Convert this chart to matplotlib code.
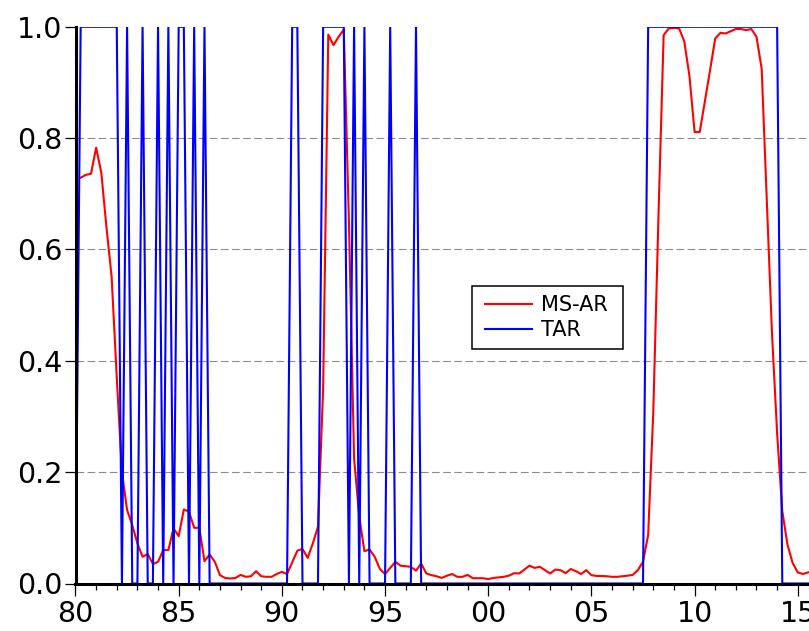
import numpy as np
import matplotlib
matplotlib.use("Agg")
import matplotlib.pyplot as plt
from matplotlib.patches import Rectangle

plt.rcParams['font.family'] = ['DejaVu Sans']
plt.rcParams['lines.scale_dashes'] = False

# Quarterly observations starting 1980Q1
start_year = 1980
ms_ar = [np.nan,
         0.729, 0.734, 0.736, 0.783, 0.738, 0.64, 0.551, 0.37, 0.20, 0.132,
         0.105, 0.072, 0.048, 0.053, 0.035, 0.039, 0.060, 0.060, 0.099, 0.085,
         0.133, 0.129, 0.100, 0.100, 0.040, 0.052, 0.039, 0.015, 0.010, 0.009,
         0.010, 0.0155, 0.012, 0.013, 0.022, 0.013, 0.012, 0.012, 0.017, 0.021,
         0.017, 0.038, 0.059, 0.062, 0.046, 0.072, 0.102, 0.35, 0.986, 0.967,
         0.982, 0.995, 0.65, 0.225, 0.12, 0.058, 0.061, 0.048, 0.026, 0.017,
         0.028, 0.039, 0.032, 0.031, 0.030, 0.023, 0.036, 0.018, 0.015, 0.013,
         0.010, 0.014, 0.017, 0.012, 0.012, 0.0155, 0.0095, 0.0095, 0.0095, 0.008,
         0.010, 0.011, 0.012, 0.014, 0.0185, 0.018, 0.025, 0.032, 0.028, 0.030,
         0.024, 0.018, 0.025, 0.024, 0.0185, 0.026, 0.022, 0.017, 0.024, 0.015,
         0.0135, 0.0135, 0.013, 0.012, 0.012, 0.013, 0.014, 0.0155, 0.024, 0.039,
         0.087, 0.31, 0.66, 0.985, 0.997, 0.998, 0.997, 0.974, 0.912, 0.811,
         0.811, 0.866, 0.922, 0.979, 0.989, 0.988, 0.992, 0.996, 0.996, 0.994,
         0.996, 0.982, 0.925, 0.69, 0.45, 0.27, 0.13, 0.07, 0.037, 0.020,
         0.017, 0.020]

tar = ([0] + [1]*8 + [0] + [1] + [0]*2 + [1] + [0]*2 + [1] + [0] + [1] + [0]
       + [1]*2 + [0] + [1] + [0] + [1] + [0]*16 + [1]*2 + [0]*4 + [1]*5
       + [0] + [1] + [0] + [1] + [0]*4 + [1] + [0]*4 + [1] + [0]*44
       + [1]*26 + [0]*6)

year_ticks = [1980, 1985, 1990, 1995, 2000, 2005, 2010, 2015]
year_labels = ["80", "85", "90", "95", "00", "05", "10", "15"]
y_ticks = [0.0, 0.2, 0.4, 0.6, 0.8, 1.0]
y_labels = ["0.0", "0.2", "0.4", "0.6", "0.8", "1.0"]

n = len(ms_ar)
x = start_year + np.arange(n) / 4.0
x_tar = start_year + np.arange(len(tar)) / 4.0

W, H = 809, 631
fig = plt.figure(figsize=(W / 100, H / 100), dpi=100)
left_px, right_px, top_px, bot_px = 75.5, 818.4, 26.8, 583.5
ax = fig.add_axes([left_px / W, 1 - bot_px / H,
                   (right_px - left_px) / W, (bot_px - top_px) / H])
ax.set_xlim(1980, 2016)
ax.set_ylim(0, 1.0)

for yv in y_ticks:
    if 0 < yv < 1:
        ax.axhline(yv, color='#8c8c8c', lw=0.8, dashes=(5.5, 2.5), zorder=1)

ax.plot(x, ms_ar, color='#ff0000', lw=1.5, label='MS-AR', zorder=3, clip_on=False)
ax.plot(x_tar, tar, color='#0000ff', lw=1.5, label='TAR', zorder=4)

for s in ['top', 'right']:
    ax.spines[s].set_visible(False)
for s in ['left', 'bottom']:
    ax.spines[s].set_linewidth(2.2)
    ax.spines[s].set_zorder(5)

ax.set_yticks(y_ticks)
ax.set_yticklabels(y_labels)
ax.set_xticks(year_ticks)
ax.set_xticklabels(year_labels)
ax.set_xticks(np.arange(1980, 2017), minor=True)
ax.tick_params(axis='y', direction='out', length=8, width=0.9, labelsize=20.5, pad=1.5)
ax.tick_params(axis='x', which='major', direction='out', length=8.6, width=0.9,
               labelsize=20.5, pad=3)
ax.tick_params(axis='x', which='minor', direction='out', length=4.3, width=0.9)

# legend frame drawn as a plain rectangle, contents placed inside
ax.add_patch(Rectangle((471.7 / W, 1 - 349.3 / H), 151 / W, 63.3 / H,
                       transform=fig.transFigure, fill=True, clip_on=False,
                       facecolor='white', edgecolor='black',
                       linewidth=1.1, zorder=6))
leg = ax.legend(loc='upper left', bbox_to_anchor=(485 / W, 1 - 295 / H),
                bbox_transform=fig.transFigure, fontsize=15, frameon=False,
                handlelength=2.26, handletextpad=0.45, borderpad=0,
                labelspacing=0.26, borderaxespad=0)
leg.set_zorder(7)

fig.savefig('out.png', dpi=100)
